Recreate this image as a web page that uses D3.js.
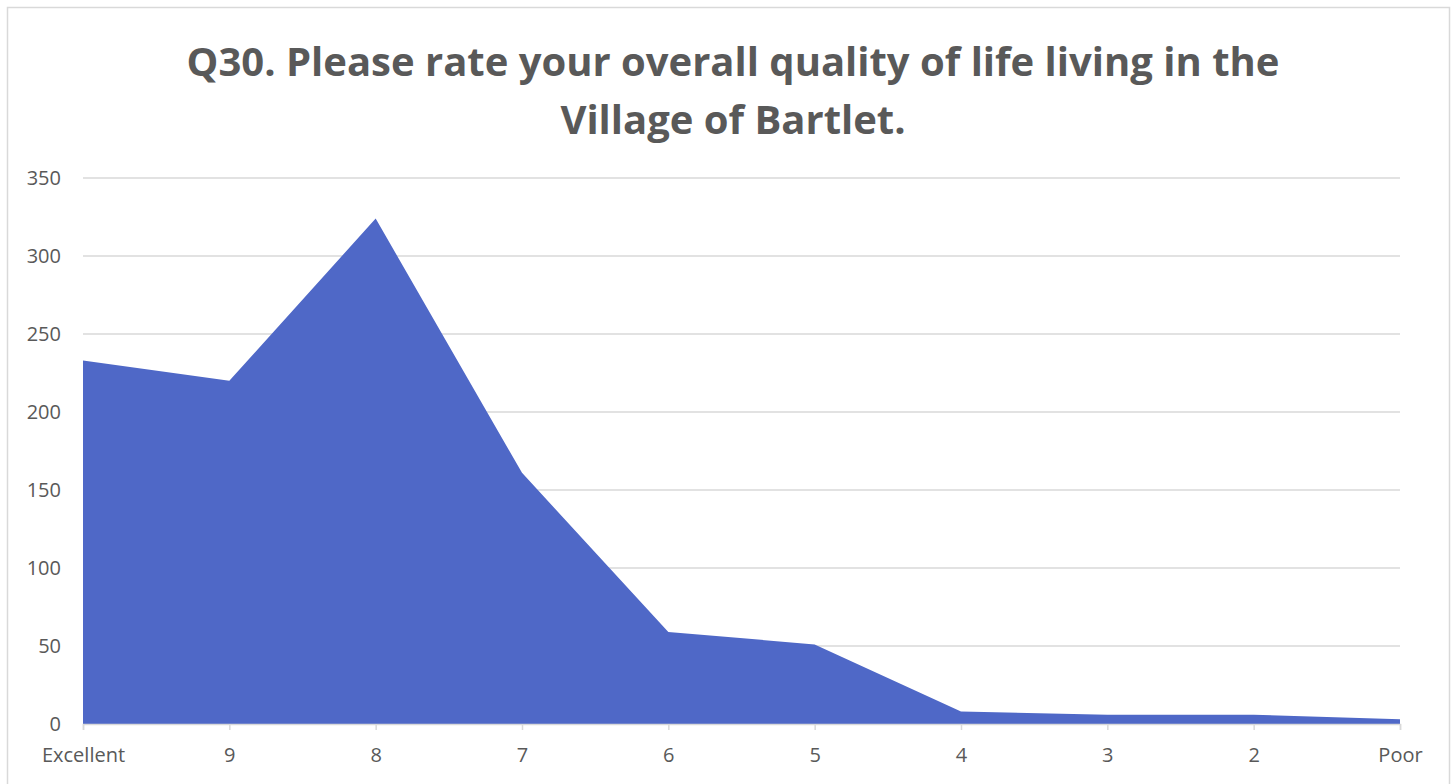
<!DOCTYPE html>
<html><head><meta charset="utf-8">
<script src="https://cdn.jsdelivr.net/npm/d3@7"></script>
<style>body{margin:0;background:#fff;}svg{display:block;}</style>
</head><body>
<svg id="c" width="1455" height="784"></svg>
<script>
const categories = ["Excellent","9","8","7","6","5","4","3","2","Poor"];
const values = [233, 220, 324, 161, 59, 51, 8, 6, 6, 3];
const yTicks = [0,50,100,150,200,250,300,350];
const titleLines = ["Q30. Please rate your overall quality of life living in the","Village of Bartlet."];

const svg = d3.select("#c");
const W = 1455, H = 784;
const m = {left:83, right:55, top:178, bottom:60};
svg.append("rect").attr("x",7.5).attr("y",7.5).attr("width",1442).attr("height",790)
  .attr("fill","#fff").attr("stroke","#d9d9d9").attr("stroke-width",1.5);

const x = d3.scalePoint().domain(categories).range([m.left, W-m.right]);
const y = d3.scaleLinear().domain([0,350]).range([H-m.bottom, m.top]);

const grid = svg.append("g");
grid.selectAll("line").data(yTicks.filter(d=>d>0)).join("line")
  .attr("x1",m.left).attr("x2",W-m.right)
  .attr("y1",d=>y(d)).attr("y2",d=>y(d))
  .attr("stroke","#d9d9d9").attr("stroke-width",1.3);

const area = d3.area().x((d,i)=>x(categories[i])).y0(y(0)).y1(d=>y(d));
svg.append("path").datum(values).attr("d",area).attr("fill","#4f68c7");

const xAxis = svg.append("g").attr("transform",`translate(0,${y(0)})`)
  .call(d3.axisBottom(x).tickSize(6).tickPadding(18));
xAxis.select(".domain").attr("stroke","#d9d9d9").attr("stroke-width",1.5);
xAxis.selectAll(".tick line").attr("stroke","#d9d9d9").attr("stroke-width",1.5);
xAxis.selectAll(".tick text").attr("fill","#595959").style("font-family","'Open Sans', sans-serif").style("font-size","20px");

const yAxis = svg.append("g").attr("transform",`translate(${m.left-22},0)`)
  .call(d3.axisLeft(y).tickValues(yTicks).tickSize(0).tickPadding(0));
yAxis.select(".domain").remove();
yAxis.selectAll(".tick text").attr("fill","#595959").style("font-family","'Open Sans', sans-serif").style("font-size","20px");

svg.append("g").selectAll("text").data(titleLines).join("text")
  .attr("x",733).attr("y",(d,i)=>76+i*58)
  .attr("text-anchor","middle").attr("fill","#595959")
  .style("font-family","'Open Sans', sans-serif").style("font-weight","bold").style("font-size","40px")
  .text(d=>d);
</script>
</body></html>
